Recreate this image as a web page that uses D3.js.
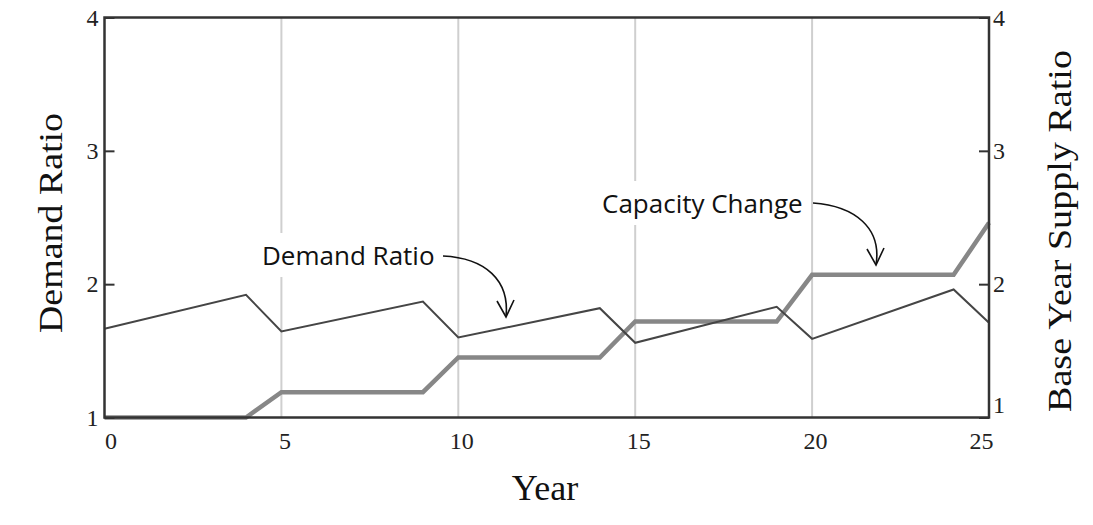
<!DOCTYPE html>
<html>
<head>
<meta charset="utf-8">
<script src="https://cdn.jsdelivr.net/npm/d3@7"></script>
<style>
  body { margin: 0; background: #fff; }
  .tick text { font-family: "Liberation Serif", "Times New Roman", serif; font-size: 24px; fill: #222; }
  .title { font-family: "Liberation Serif", "Times New Roman", serif; font-size: 33px; fill: #111; }
  .note { font-family: "Open Sans", sans-serif; font-size: 26px; fill: #111; }
</style>
</head>
<body>
<script>
// values
var years = [0, 4, 5, 9, 10, 14, 15, 19, 20, 24, 25];
var demand = [1.665, 1.92, 1.645, 1.87, 1.60, 1.82, 1.56, 1.83, 1.59, 1.96, 1.71];
var capacity = [1, 1, 1.19, 1.19, 1.45, 1.45, 1.72, 1.72, 2.07, 2.07, 2.46];
var xTicks = [0, 5, 10, 15, 20, 25];
var gridYears = [5, 10, 15, 20];
var yTicks = [1, 2, 3, 4];

var W = 1093, H = 525;
var margin = {top: 17.5, right: 104, bottom: 107.5, left: 104.5};
var w = W - margin.left - margin.right;
var h = H - margin.top - margin.bottom;

var svg = d3.select("body").append("svg")
    .attr("width", W)
    .attr("height", H);

var g = svg.append("g")
    .attr("transform", "translate(" + margin.left + "," + margin.top + ")");

var x = d3.scaleLinear().domain([0, 25]).range([0, w]);
var y = d3.scaleLinear().domain([1, 4]).range([h, 0]);

// vertical grid lines
g.selectAll(".grid")
  .data(gridYears)
  .enter()
  .append("line")
    .attr("class", "grid")
    .attr("x1", function(d) { return x(d); })
    .attr("x2", function(d) { return x(d); })
    .attr("y1", 0)
    .attr("y2", h)
    .attr("stroke", "#cfcfcf")
    .attr("stroke-width", 2);

// lines
var line = d3.line()
    .x(function(d) { return x(d[0]); })
    .y(function(d) { return y(d[1]); });

g.append("path")
    .datum(years.map(function(d, i) { return [d, capacity[i]]; }))
    .attr("d", line)
    .attr("fill", "none")
    .attr("stroke", "#878787")
    .attr("stroke-width", 4.5);

g.append("path")
    .datum(years.map(function(d, i) { return [d, demand[i]]; }))
    .attr("d", line)
    .attr("fill", "none")
    .attr("stroke", "#454545")
    .attr("stroke-width", 2);

// left axis, ticks pointing in
var yl = g.append("g")
    .call(d3.axisLeft(y).tickValues(yTicks).tickFormat(d3.format("d")).tickSize(-10).tickPadding(6));
yl.select(".domain").remove();
yl.selectAll(".tick line").attr("stroke", "#333").attr("stroke-width", 2);

// right axis
var yr = g.append("g")
    .attr("transform", "translate(" + w + ",0)")
    .call(d3.axisRight(y).tickValues(yTicks).tickFormat(d3.format("d")).tickSize(-10).tickPadding(4));
yr.select(".domain").remove();
yr.selectAll(".tick line").attr("stroke", "#333").attr("stroke-width", 2);
yr.selectAll(".tick text").filter(function(d) { return d === 1; }).attr("dy", "-0.2em");

// bottom axis, labels only
var xa = g.append("g")
    .attr("transform", "translate(0," + h + ")")
    .call(d3.axisBottom(x).tickValues(xTicks).tickSize(0).tickPadding(14));
xa.select(".domain").remove();
xa.selectAll(".tick text")
    .attr("dx", function(d) { return d === 0 ? 0 : (d === 25 ? 4 : 3); })
    .style("text-anchor", function(d) { return d === 0 ? "start" : (d === 25 ? "end" : "middle"); });

// frame
g.append("rect")
    .attr("width", w)
    .attr("height", h)
    .attr("fill", "none")
    .attr("stroke", "#333")
    .attr("stroke-width", 2.5);

// axis titles
svg.append("text")
    .attr("class", "title")
    .attr("text-anchor", "middle")
    .attr("textLength", 220)
    .attr("lengthAdjust", "spacingAndGlyphs")
    .attr("transform", "translate(62,223) rotate(-90)")
    .text("Demand Ratio");

svg.append("text")
    .attr("class", "title")
    .attr("text-anchor", "middle")
    .attr("textLength", 362)
    .attr("lengthAdjust", "spacingAndGlyphs")
    .attr("transform", "translate(1071,231) rotate(-90)")
    .text("Base Year Supply Ratio");

svg.append("text")
    .attr("class", "title")
    .attr("text-anchor", "middle")
    .attr("x", 545)
    .attr("y", 500)
    .style("font-size", "36px")
    .text("Year");

// annotations with curved arrows
function note(label, tx, ty, path, tip) {
  var t = svg.append("text")
      .attr("class", "note")
      .attr("x", tx)
      .attr("y", ty)
      .text(label);
  var b = t.node().getBBox();
  svg.insert("rect", function() { return t.node(); })
      .attr("x", b.x - 8)
      .attr("y", b.y - 4)
      .attr("width", b.width + 16)
      .attr("height", b.height + 8)
      .attr("fill", "#fff");
  svg.append("path")
      .attr("d", path)
      .attr("fill", "none")
      .attr("stroke", "#111")
      .attr("stroke-width", 1.6);
  svg.append("path")
      .attr("d", "M" + (tip[0] - 9) + "," + (tip[1] - 16) + "L" + tip[0] + "," + tip[1] + "L" + (tip[0] + 8) + "," + (tip[1] - 17))
      .attr("fill", "none")
      .attr("stroke", "#111")
      .attr("stroke-width", 1.6);
}

note("Demand Ratio", 262, 265, "M443,256 C485,258 510,280 506,317", [506, 317]);
note("Capacity Change", 602, 213, "M813,203 C855,206 882,228 876,265", [876, 265]);
</script>
</body>
</html>
